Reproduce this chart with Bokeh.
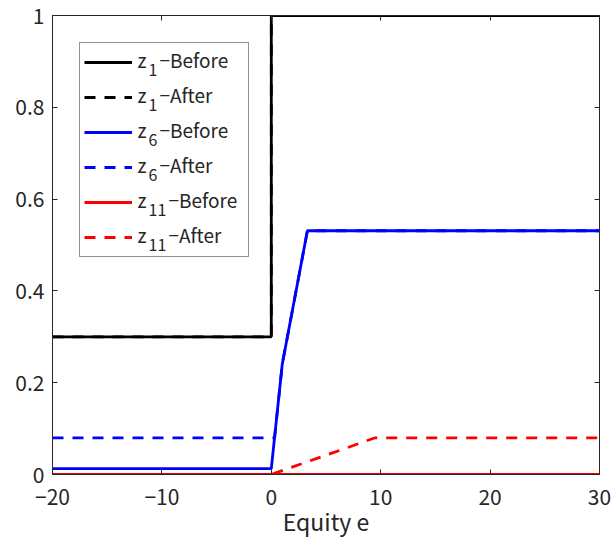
from bokeh.plotting import figure
from bokeh.models import (LinearAxis, FixedTicker, Legend, LegendItem, Range1d,
                          CustomJSTickFormatter, Label)
from bokeh.embed import file_html
from bokeh.resources import INLINE

# data
z1_before_x = [-20, 0, 0, 30]
z1_before_y = [0.30, 0.30, 1.0, 1.0]
z1_after_x = [-20, 0, 0, 30]
z1_after_y = [0.30, 0.30, 1.0, 1.0]
z6_before_x = [-20, 0, 1.0, 3.3, 30]
z6_before_y = [0.013, 0.013, 0.24, 0.531, 0.531]
z6_after_x = [-20, 0.3, 1.0, 3.3, 30]
z6_after_y = [0.08, 0.08, 0.24, 0.531, 0.531]
z11_before_x = [-20, 30]
z11_before_y = [0.0, 0.0]
z11_after_x = [-20, 0, 9.5, 30]
z11_after_y = [0.0, 0.0, 0.08, 0.08]

series_names = ["z", "z", "z", "z", "z", "z"]
series_subs = ["1", "1", "6", "6", "11", "11"]
series_suffix = ["−Before", "−After", "−Before", "−After", "−Before", "−After"]

x_ticks = [-20, -10, 0, 10, 20, 30]
x_labels = {-20: "−20", -10: "−10", 0: "0", 10: "10", 20: "20", 30: "30"}
y_ticks = [0, 0.2, 0.4, 0.6, 0.8, 1]
y_labels = {0: "0", 0.2: "0.2", 0.4: "0.4", 0.6: "0.6", 0.8: "0.8", 1: "1"}

FONT = "Noto Sans CJK JP"
TXT = "#262626"
W, H = 612, 540
FL, FT, FR, FB = 52, 15, 599, 476   # frame edges in page pixels

p = figure(width=W, height=H, output_backend="svg", toolbar_location=None,
           x_range=Range1d(-20, 30), y_range=Range1d(0, 1),
           min_border_left=FL, min_border_right=W - FR, min_border_top=FT,
           min_border_bottom=H - FB)
p.xgrid.visible = False
p.ygrid.visible = False
p.outline_line_color = TXT
p.outline_line_width = 1

LW = 2.8
DASH = "11 9"
r1 = p.line(z1_before_x, z1_before_y, line_color="black", line_width=LW)
r2 = p.line(z1_after_x, z1_after_y, line_color="black", line_width=LW, line_dash=DASH)
r3 = p.line(z6_before_x, z6_before_y, line_color="#0000ff", line_width=LW)
r4 = p.line(z6_after_x, z6_after_y, line_color="#0000ff", line_width=LW, line_dash=DASH)
r5 = p.line(z11_before_x, z11_before_y, line_color="#ff0000", line_width=LW)
r6 = p.line(z11_after_x, z11_after_y, line_color="#ff0000", line_width=LW, line_dash=DASH)
renderers = [r1, r2, r3, r4, r5, r6]

for ax in (p.xaxis[0], p.yaxis[0]):
    ax.major_tick_in = 5
    ax.major_tick_out = 0
    ax.minor_tick_in = 0
    ax.minor_tick_out = 0
    ax.axis_line_color = TXT
    ax.major_tick_line_color = TXT
    ax.major_label_text_font = FONT
    ax.major_label_text_font_size = "21px"
    ax.major_label_text_color = TXT
    ax.major_label_text_font_style = "normal"

p.xaxis[0].major_label_standoff = 14
p.yaxis[0].major_label_standoff = 8
p.xaxis[0].ticker = FixedTicker(ticks=x_ticks)
p.xaxis[0].major_label_overrides = x_labels
p.yaxis[0].ticker = FixedTicker(ticks=y_ticks)
p.yaxis[0].major_label_overrides = y_labels
p.xaxis[0].axis_label = "Equity e"
p.xaxis[0].axis_label_text_font = FONT
p.xaxis[0].axis_label_text_font_size = "23px"
p.xaxis[0].axis_label_text_font_style = "normal"
p.xaxis[0].axis_label_text_color = TXT
p.xaxis[0].axis_label_standoff = -4

blank = CustomJSTickFormatter(code="return ''")
top = LinearAxis(ticker=FixedTicker(ticks=x_ticks), formatter=blank,
                 major_tick_in=5, major_tick_out=0, minor_tick_in=0, minor_tick_out=0,
                 axis_line_color=TXT, major_tick_line_color=TXT, major_label_standoff=0)
right = LinearAxis(ticker=FixedTicker(ticks=y_ticks), formatter=blank,
                   major_tick_in=5, major_tick_out=0, minor_tick_in=0, minor_tick_out=0,
                   axis_line_color=TXT, major_tick_line_color=TXT, major_label_standoff=0)
p.add_layout(top, "above")
p.add_layout(right, "right")

# legend box and line samples (labels drawn separately for real subscripts)
legend = Legend(items=[LegendItem(label=" ", renderers=[r]) for r in renderers],
                location="top_left")
legend.label_text_font_size = "1px"
legend.glyph_width = 48
legend.glyph_height = 30
legend.label_height = 30
legend.label_width = 110
legend.label_standoff = 2
legend.spacing = 5
legend.padding = 4
legend.margin = 27
legend.border_line_color = TXT
legend.border_line_width = 1
legend.background_fill_color = None
p.add_layout(legend)

# legend texts; screen units are measured from the frame's bottom-left corner
def fx(page_x):
    return page_x - FL

def fy(page_y):
    return FB - page_y

for i in range(6):
    yc = 62 + 35 * i
    x0 = 137
    common = dict(x_units="screen", y_units="screen", text_font=FONT,
                  text_color=TXT, text_baseline="alphabetic")
    p.add_layout(Label(x=fx(x0), y=fy(yc - 1), text=series_names[i],
                       text_font_size="19px", **common))
    sub = series_subs[i]
    p.add_layout(Label(x=fx(x0 + 11), y=fy(yc + 9), text=sub,
                       text_font_size="16px", **common))
    xs = x0 + 11 + 9 * len(sub) + 2
    p.add_layout(Label(x=fx(xs), y=fy(yc - 1), text=series_suffix[i],
                       text_font_size="19px", **common))

open("out.html", "w").write(file_html(p, INLINE))
